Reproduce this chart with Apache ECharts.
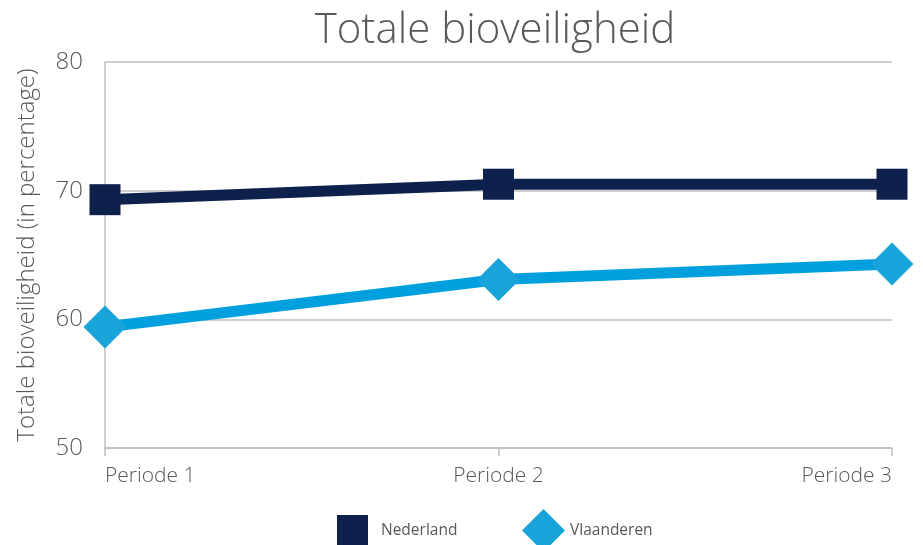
<!DOCTYPE html>
<html><head><meta charset="utf-8">
<script src="https://cdn.jsdelivr.net/npm/echarts@6/dist/echarts.min.js"></script>
<style>html,body{margin:0;padding:0;background:#fff}#c{width:923px;height:545px}</style>
</head><body><div id="c"></div>
<script>
const categories = ['Periode 1', 'Periode 2', 'Periode 3'];
const nederland = [69.3, 70.5, 70.5];
const vlaanderen = [59.4, 63.1, 64.3];
const yTicks = { min: 50, max: 80, interval: 10 };
const FONT = 'Open Sans';

const chart = echarts.init(document.getElementById('c'));
chart.setOption({
  backgroundColor: '#fff',
  animation: false,
  title: {
    text: 'Totale bioveiligheid', left: 490, top: 5, textAlign: 'center',
    textStyle: { fontFamily: FONT, fontWeight: 300, fontSize: 42, color: '#595959' }
  },
  legend: [
    {
      left: 332, top: 510, itemWidth: 31, itemHeight: 31,
      textStyle: { fontFamily: FONT, fontSize: 15.5, color: '#595959', padding: [0, 0, 0, 8] },
      data: [{ name: 'Nederland', icon: 'rect' }]
    },
    {
      left: 517, top: 504, itemWidth: 43, itemHeight: 43,
      textStyle: { fontFamily: FONT, fontSize: 15.5, color: '#595959', padding: [0, 0, 0, 0] },
      data: [{ name: 'Vlaanderen', icon: 'diamond' }]
    }
  ],
  grid: { left: 105, right: 31, top: 62, bottom: 97 },
  xAxis: {
    type: 'category', data: categories, boundaryGap: false,
    axisLine: { lineStyle: { color: '#bfbfbf', width: 1.5 } },
    axisTick: { show: true, length: 8, lineStyle: { color: '#bfbfbf', width: 1.5 } },
    axisLabel: { fontFamily: FONT, fontSize: 21, fontWeight: 300, color: '#595959', margin: 18,
      alignMinLabel: 'left', alignMaxLabel: 'right' },
    splitLine: { show: false }
  },
  yAxis: {
    type: 'value', min: yTicks.min, max: yTicks.max, interval: yTicks.interval,
    name: 'Totale bioveiligheid (in percentage)', nameLocation: 'middle', nameGap: 66,
    nameTextStyle: { fontFamily: FONT, fontSize: 24, fontWeight: 300, color: '#595959' },
    axisLine: { show: true, lineStyle: { color: '#bfbfbf', width: 1.5 } },
    axisTick: { show: false },
    axisLabel: { fontFamily: FONT, fontSize: 24, fontWeight: 300, color: '#595959', margin: 22 },
    splitLine: { lineStyle: { color: '#bfbfbf', width: 1.5 } }
  },
  series: [
    {
      name: 'Nederland', type: 'line', data: nederland,
      symbol: 'rect', symbolSize: 31,
      lineStyle: { color: '#0e214d', width: 11 },
      itemStyle: { color: '#0e214d' }
    },
    {
      name: 'Vlaanderen', type: 'line', data: vlaanderen,
      symbol: 'diamond', symbolSize: 43,
      lineStyle: { color: '#00a0df', width: 11 },
      itemStyle: { color: '#19a3db' }
    }
  ]
});
</script></body></html>
